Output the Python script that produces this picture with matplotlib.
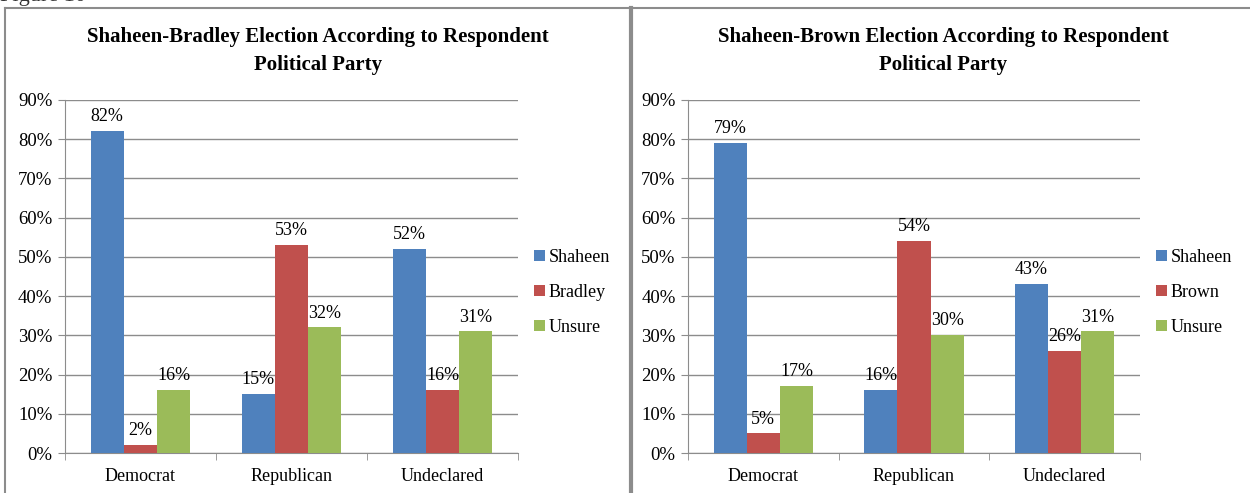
import matplotlib.pyplot as plt
import numpy as np
from matplotlib.lines import Line2D

plt.rcParams['font.family'] = ['Liberation Serif', 'DejaVu Serif']

categories = ['Democrat', 'Republican', 'Undeclared']
series_colors = ['#4F81BD', '#C0504D', '#9BBB59']

left_title = 'Shaheen-Bradley Election According to Respondent\nPolitical Party'
left_names = ['Shaheen', 'Bradley', 'Unsure']
left_shaheen = [82, 15, 52]
left_bradley = [2, 53, 16]
left_unsure = [16, 32, 31]

right_title = 'Shaheen-Brown Election According to Respondent\nPolitical Party'
right_names = ['Shaheen', 'Brown', 'Unsure']
right_shaheen = [79, 16, 43]
right_brown = [5, 54, 26]
right_unsure = [17, 30, 31]

W, H = 1250, 493
fig = plt.figure(figsize=(12.5, 4.93), dpi=100)
grid_col = '#8C8C8C'


def draw_panel(ax, title, names, values, title_x):
    x = np.arange(len(categories))
    width = 0.22
    for i, (name, vals) in enumerate(zip(names, values)):
        pos = x + (i - 1) * width
        ax.bar(pos, vals, width, color=series_colors[i], label=name, zorder=3)
        for p, v in zip(pos, vals):
            ax.text(p, v + 1.5, f'{v}%', ha='center', va='bottom', fontsize=13)
    ax.set_xlim(-0.5, 2.5)
    ax.set_ylim(0, 90)
    ax.set_yticks(range(0, 91, 10))
    ax.set_yticklabels([f'{t}%' for t in range(0, 91, 10)], fontsize=13.5)
    ax.set_xticks(x)
    ax.set_xticklabels(categories, fontsize=13)
    ax.tick_params(axis='x', length=0, pad=11)
    ax.set_xticks([-0.5, 0.5, 1.5, 2.5], minor=True)
    ax.tick_params(axis='x', which='minor', length=5, color=grid_col, direction='out')
    ax.tick_params(axis='y', length=5, color=grid_col, pad=4)
    ax.yaxis.grid(True, color=grid_col, linewidth=1, zorder=0)
    ax.set_axisbelow(True)
    for s in ['top', 'right']:
        ax.spines[s].set_visible(False)
    for s in ['left', 'bottom']:
        ax.spines[s].set_color(grid_col)
    fig.text(title_x, 1 - 51 / H, title, ha='center', va='center',
             fontsize=15, fontweight='bold', linespacing=1.55)
    ax.legend(loc='center left', bbox_to_anchor=(1.0, 0.455), frameon=False,
              fontsize=13, handlelength=0.6, handleheight=0.6,
              handletextpad=0.2, labelspacing=1.0)


ax1 = fig.add_axes([65 / W, 1 - 453 / H, 453 / W, 353 / H])
ax2 = fig.add_axes([688 / W, 1 - 453 / H, 452 / W, 353 / H])

draw_panel(ax1, left_title, left_names, [left_shaheen, left_bradley, left_unsure], 318 / W)
draw_panel(ax2, right_title, right_names, [right_shaheen, right_brown, right_unsure], 943 / W)

# panel borders
border = '#8C8C8C'
fig.add_artist(Line2D([5 / W, 1], [1 - 7.5 / H] * 2, color=border, lw=1.5, transform=fig.transFigure))
fig.add_artist(Line2D([5 / W] * 2, [0, 1 - 7.5 / H], color=border, lw=1.5, transform=fig.transFigure))
fig.add_artist(Line2D([630.5 / W] * 2, [0, 1 - 7.5 / H], color=border, lw=3, transform=fig.transFigure))

# caption above the panels, cut off by the top edge as in the source image
fig.text(0.0, 1 + 4 / H, 'Figure 10', ha='left', va='center', fontsize=16, color='#333333')

fig.savefig('out.png', dpi=100)
